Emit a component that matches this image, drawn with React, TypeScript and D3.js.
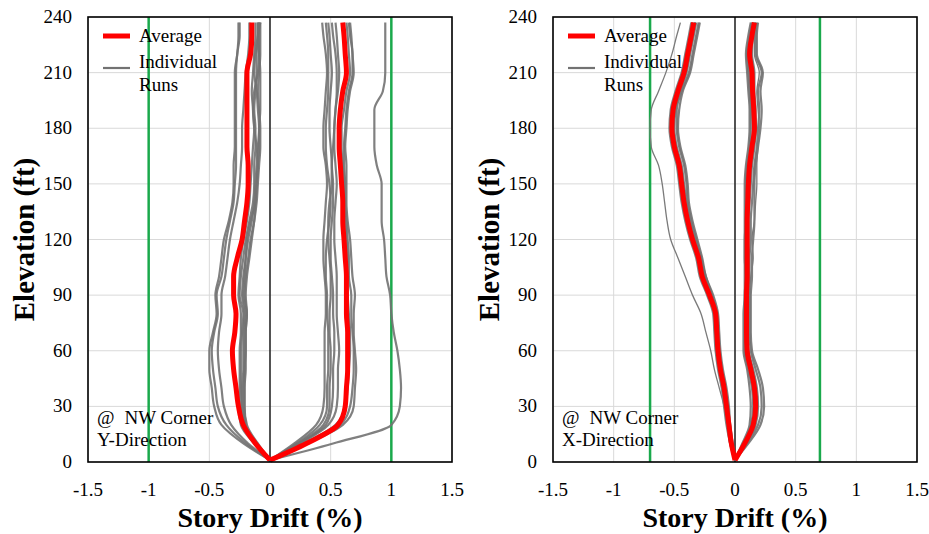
import React from "react";
import * as d3 from "d3";

const ELEV = [1, 10, 20, 30, 40, 50, 60, 70, 80, 90, 100, 110, 120, 130, 140, 150, 160, 170, 180, 190, 200, 210, 220, 230, 237];
const X_TICKS = [-1.5, -1, -0.5, 0, 0.5, 1, 1.5];
const X_TICK_LABELS = ["-1.5", "-1", "-0.5", "0", "0.5", "1", "1.5"];
const Y_TICKS = [0, 30, 60, 90, 120, 150, 180, 210, 240];

// Y-Direction panel
const Y_AVG_NEG = [0, -0.12, -0.22, -0.26, -0.28, -0.30, -0.31, -0.29, -0.28, -0.30, -0.30, -0.27, -0.23, -0.21, -0.19, -0.18, -0.18, -0.19, -0.19, -0.19, -0.19, -0.19, -0.16, -0.15, -0.15];
const Y_AVG_POS = [0, 0.30, 0.56, 0.62, 0.63, 0.64, 0.64, 0.64, 0.63, 0.63, 0.63, 0.62, 0.61, 0.60, 0.60, 0.59, 0.58, 0.57, 0.57, 0.58, 0.60, 0.63, 0.62, 0.61, 0.60];
const Y_RUNS_NEG = [
  [0, -0.22, -0.40, -0.46, -0.48, -0.50, -0.50, -0.47, -0.44, -0.45, -0.42, -0.40, -0.38, -0.34, -0.31, -0.30, -0.30, -0.29, -0.29, -0.29, -0.29, -0.29, -0.27, -0.26, -0.26],
  [0, -0.20, -0.36, -0.43, -0.45, -0.47, -0.48, -0.46, -0.43, -0.44, -0.40, -0.38, -0.36, -0.33, -0.30, -0.29, -0.28, -0.28, -0.28, -0.28, -0.28, -0.28, -0.27, -0.25, -0.25],
  [0, -0.18, -0.32, -0.38, -0.40, -0.42, -0.43, -0.42, -0.40, -0.40, -0.37, -0.35, -0.33, -0.30, -0.27, -0.25, -0.24, -0.23, -0.23, -0.22, -0.21, -0.20, -0.18, -0.17, -0.17],
  [0, -0.12, -0.22, -0.24, -0.24, -0.24, -0.24, -0.23, -0.22, -0.25, -0.24, -0.22, -0.20, -0.17, -0.14, -0.13, -0.13, -0.12, -0.12, -0.13, -0.12, -0.11, -0.11, -0.10, -0.10],
  [0, -0.12, -0.21, -0.23, -0.23, -0.22, -0.22, -0.22, -0.21, -0.23, -0.22, -0.20, -0.19, -0.16, -0.12, -0.11, -0.10, -0.11, -0.13, -0.14, -0.13, -0.10, -0.09, -0.09, -0.09],
  [0, -0.11, -0.20, -0.22, -0.22, -0.21, -0.21, -0.21, -0.20, -0.22, -0.21, -0.20, -0.18, -0.15, -0.13, -0.12, -0.11, -0.10, -0.09, -0.10, -0.11, -0.13, -0.12, -0.10, -0.08],
  [0, -0.11, -0.20, -0.21, -0.21, -0.21, -0.20, -0.20, -0.19, -0.21, -0.20, -0.18, -0.16, -0.13, -0.11, -0.10, -0.09, -0.08, -0.08, -0.09, -0.10, -0.09, -0.08, -0.08, -0.08],
  [0, -0.10, -0.19, -0.21, -0.21, -0.20, -0.20, -0.20, -0.19, -0.20, -0.19, -0.17, -0.15, -0.13, -0.12, -0.11, -0.10, -0.09, -0.09, -0.08, -0.08, -0.08, -0.09, -0.10, -0.10],
  [0, -0.13, -0.24, -0.26, -0.25, -0.25, -0.25, -0.24, -0.24, -0.26, -0.25, -0.24, -0.22, -0.19, -0.17, -0.16, -0.15, -0.14, -0.13, -0.14, -0.15, -0.14, -0.13, -0.12, -0.12],
];
const Y_RUNS_POS = [
  [0, 0.20, 0.38, 0.44, 0.45, 0.45, 0.45, 0.45, 0.46, 0.46, 0.45, 0.44, 0.44, 0.45, 0.46, 0.47, 0.46, 0.44, 0.44, 0.45, 0.46, 0.47, 0.46, 0.44, 0.43],
  [0, 0.22, 0.41, 0.47, 0.47, 0.48, 0.48, 0.48, 0.47, 0.47, 0.46, 0.46, 0.47, 0.49, 0.50, 0.49, 0.47, 0.46, 0.46, 0.47, 0.48, 0.48, 0.48, 0.47, 0.46],
  [0, 0.23, 0.44, 0.49, 0.49, 0.50, 0.50, 0.49, 0.49, 0.50, 0.50, 0.49, 0.48, 0.48, 0.49, 0.51, 0.51, 0.50, 0.49, 0.49, 0.50, 0.51, 0.50, 0.49, 0.48],
  [0, 0.24, 0.46, 0.51, 0.52, 0.52, 0.53, 0.53, 0.52, 0.52, 0.51, 0.50, 0.50, 0.51, 0.52, 0.52, 0.51, 0.52, 0.53, 0.54, 0.55, 0.55, 0.54, 0.52, 0.51],
  [0, 0.25, 0.48, 0.55, 0.56, 0.56, 0.57, 0.56, 0.55, 0.55, 0.55, 0.54, 0.53, 0.53, 0.54, 0.55, 0.54, 0.53, 0.53, 0.54, 0.56, 0.57, 0.56, 0.55, 0.54],
  [0, 0.28, 0.54, 0.62, 0.64, 0.65, 0.66, 0.66, 0.65, 0.64, 0.63, 0.64, 0.63, 0.62, 0.61, 0.61, 0.60, 0.59, 0.59, 0.61, 0.63, 0.66, 0.65, 0.64, 0.63],
  [0, 0.30, 0.58, 0.66, 0.68, 0.69, 0.69, 0.68, 0.67, 0.67, 0.65, 0.65, 0.64, 0.63, 0.62, 0.62, 0.61, 0.61, 0.62, 0.63, 0.65, 0.68, 0.68, 0.66, 0.65],
  [0, 0.31, 0.60, 0.69, 0.70, 0.71, 0.70, 0.69, 0.69, 0.70, 0.68, 0.67, 0.66, 0.64, 0.63, 0.63, 0.63, 0.62, 0.63, 0.64, 0.66, 0.69, 0.68, 0.67, 0.66],
  [0, 0.52, 1.00, 1.07, 1.08, 1.07, 1.05, 1.02, 1.00, 0.99, 0.96, 0.95, 0.94, 0.92, 0.92, 0.92, 0.88, 0.86, 0.86, 0.86, 0.93, 0.95, 0.95, 0.95, 0.95],
];

// X-Direction panel
const X_AVG_NEG = [0, -0.03, -0.05, -0.07, -0.09, -0.12, -0.14, -0.15, -0.16, -0.21, -0.27, -0.30, -0.35, -0.39, -0.42, -0.44, -0.46, -0.50, -0.52, -0.51, -0.47, -0.42, -0.39, -0.36, -0.34];
const X_AVG_POS = [0, 0.08, 0.15, 0.17, 0.16, 0.13, 0.10, 0.095, 0.095, 0.095, 0.10, 0.10, 0.10, 0.10, 0.105, 0.11, 0.12, 0.14, 0.16, 0.155, 0.145, 0.14, 0.12, 0.14, 0.16];
const X_RUNS_NEG = [
  [0, -0.04, -0.07, -0.09, -0.11, -0.14, -0.16, -0.17, -0.18, -0.23, -0.29, -0.32, -0.37, -0.41, -0.44, -0.46, -0.48, -0.52, -0.54, -0.53, -0.49, -0.44, -0.41, -0.38, -0.36],
  [0, -0.02, -0.04, -0.06, -0.08, -0.11, -0.13, -0.14, -0.15, -0.19, -0.25, -0.28, -0.33, -0.37, -0.40, -0.42, -0.44, -0.48, -0.50, -0.49, -0.45, -0.40, -0.37, -0.34, -0.32],
  [0, -0.03, -0.06, -0.08, -0.10, -0.13, -0.15, -0.16, -0.17, -0.20, -0.26, -0.29, -0.34, -0.38, -0.41, -0.43, -0.45, -0.49, -0.51, -0.50, -0.46, -0.41, -0.38, -0.35, -0.33],
  [0, -0.02, -0.04, -0.05, -0.07, -0.10, -0.12, -0.13, -0.14, -0.18, -0.24, -0.27, -0.31, -0.35, -0.38, -0.39, -0.41, -0.45, -0.47, -0.46, -0.43, -0.37, -0.34, -0.31, -0.29],
  [0, -0.04, -0.06, -0.08, -0.10, -0.13, -0.15, -0.16, -0.17, -0.22, -0.28, -0.31, -0.36, -0.40, -0.43, -0.45, -0.47, -0.51, -0.53, -0.52, -0.48, -0.43, -0.40, -0.37, -0.35],
  [0, -0.03, -0.05, -0.07, -0.09, -0.11, -0.13, -0.14, -0.15, -0.19, -0.24, -0.28, -0.32, -0.36, -0.39, -0.40, -0.42, -0.46, -0.48, -0.48, -0.44, -0.38, -0.35, -0.32, -0.30],
  [0, -0.03, -0.05, -0.07, -0.09, -0.12, -0.14, -0.15, -0.16, -0.20, -0.26, -0.30, -0.35, -0.39, -0.41, -0.43, -0.45, -0.49, -0.51, -0.50, -0.46, -0.41, -0.38, -0.35, -0.33],
];
const X_OUTLIER_NEG = [0, -0.03, -0.065, -0.09, -0.13, -0.17, -0.20, -0.24, -0.28, -0.35, -0.41, -0.47, -0.53, -0.56, -0.58, -0.60, -0.63, -0.69, -0.70, -0.69, -0.63, -0.57, -0.52, -0.48, -0.45];
const X_RUNS_POS = [
  [0, 0.10, 0.19, 0.22, 0.21, 0.17, 0.13, 0.12, 0.12, 0.12, 0.12, 0.12, 0.13, 0.13, 0.14, 0.15, 0.16, 0.18, 0.19, 0.20, 0.19, 0.22, 0.17, 0.17, 0.18],
  [0, 0.11, 0.21, 0.24, 0.23, 0.19, 0.14, 0.13, 0.13, 0.13, 0.14, 0.14, 0.15, 0.16, 0.16, 0.16, 0.17, 0.19, 0.21, 0.22, 0.21, 0.23, 0.18, 0.18, 0.19],
  [0, 0.07, 0.13, 0.15, 0.14, 0.11, 0.08, 0.08, 0.08, 0.08, 0.09, 0.08, 0.08, 0.09, 0.09, 0.09, 0.10, 0.12, 0.13, 0.13, 0.12, 0.11, 0.10, 0.12, 0.14],
  [0, 0.06, 0.12, 0.13, 0.12, 0.10, 0.07, 0.07, 0.07, 0.08, 0.08, 0.08, 0.08, 0.08, 0.08, 0.08, 0.09, 0.11, 0.12, 0.12, 0.11, 0.10, 0.09, 0.11, 0.13],
  [0, 0.09, 0.17, 0.19, 0.18, 0.15, 0.11, 0.10, 0.10, 0.10, 0.11, 0.11, 0.11, 0.11, 0.12, 0.13, 0.14, 0.16, 0.17, 0.17, 0.16, 0.16, 0.14, 0.15, 0.17],
  [0, 0.08, 0.14, 0.16, 0.15, 0.12, 0.09, 0.09, 0.09, 0.09, 0.10, 0.09, 0.09, 0.09, 0.10, 0.10, 0.11, 0.13, 0.15, 0.14, 0.13, 0.12, 0.11, 0.13, 0.15],
  [0, 0.09, 0.16, 0.18, 0.17, 0.14, 0.11, 0.10, 0.10, 0.10, 0.10, 0.10, 0.11, 0.11, 0.11, 0.12, 0.13, 0.15, 0.17, 0.16, 0.15, 0.15, 0.13, 0.14, 0.16],
];
const X_THIN_POS = [0, 0.08, 0.15, 0.17, 0.16, 0.12, 0.10, 0.10, 0.11, 0.12, 0.13, 0.15, 0.14, 0.16, 0.17, 0.18, 0.18, 0.19, 0.20, 0.19, 0.18, 0.20, 0.16, 0.16, 0.17];

const FONT = "Liberation Serif";

type PanelProps = {
  left: number;
  limit: number;
  avgNeg: number[];
  avgPos: number[];
  runs: number[][];
  thinRuns: number[][];
  direction: string;
};

function Panel({ left, limit, avgNeg, avgPos, runs, thinRuns, direction }: PanelProps) {
  const top = 17;
  const bottom = 462;
  const width = 364;
  const x = d3.scaleLinear().domain([-1.5, 1.5]).range([left, left + width]);
  const y = d3.scaleLinear().domain([0, 240]).range([bottom, top]);
  const line = d3
    .line<number>()
    .x((v) => x(v))
    .y((_, i) => y(ELEV[i]))
    .curve(d3.curveMonotoneY);

  return (
    <g>
      {X_TICKS.map((t) => (
        <line key={"gx" + t} x1={x(t)} x2={x(t)} y1={top} y2={bottom} stroke="#d9d9d9" strokeWidth={1} />
      ))}
      {Y_TICKS.map((t) => (
        <line key={"gy" + t} x1={left} x2={left + width} y1={y(t)} y2={y(t)} stroke="#d9d9d9" strokeWidth={1} />
      ))}
      <line x1={x(-limit)} x2={x(-limit)} y1={top} y2={bottom} stroke="#1aa94c" strokeWidth={2.5} />
      <line x1={x(limit)} x2={x(limit)} y1={top} y2={bottom} stroke="#1aa94c" strokeWidth={2.5} />
      <line x1={x(0)} x2={x(0)} y1={top} y2={bottom} stroke="#000" strokeWidth={1.3} />
      {runs.map((r, i) => (
        <path key={"r" + i} d={line(r) || ""} fill="none" stroke="#727272" strokeWidth={2.2} strokeOpacity={0.9} />
      ))}
      {thinRuns.map((r, i) => (
        <path key={"t" + i} d={line(r) || ""} fill="none" stroke="#7a7a7a" strokeWidth={1.3} />
      ))}
      <path d={line(avgNeg) || ""} fill="none" stroke="#ff0000" strokeWidth={5} />
      <path d={line(avgPos) || ""} fill="none" stroke="#ff0000" strokeWidth={5} />
      <rect x={left} y={top} width={width} height={bottom - top} fill="none" stroke="#000" strokeWidth={1.6} />
      {Y_TICKS.map((t) => (
        <text key={"ty" + t} x={left - 16} y={y(t) + 6} textAnchor="end" fontFamily={FONT} fontSize={19}>
          {t}
        </text>
      ))}
      {X_TICKS.map((t, i) => (
        <text key={"tx" + t} x={x(t)} y={496} textAnchor="middle" fontFamily={FONT} fontSize={19}>
          {X_TICK_LABELS[i]}
        </text>
      ))}
      <text x={x(0)} y={527} textAnchor="middle" fontFamily={FONT} fontSize={28} fontWeight="bold">
        Story Drift (%)
      </text>
      <text
        transform={`translate(${left - 54},${(top + bottom) / 2}) rotate(-90)`}
        textAnchor="middle"
        fontFamily={FONT}
        fontSize={29}
        fontWeight="bold"
      >
        Elevation (ft)
      </text>
      <line x1={left + 15} x2={left + 42} y1={36} y2={36} stroke="#ff0000" strokeWidth={5} />
      <text x={left + 51} y={42} fontFamily={FONT} fontSize={19}>Average</text>
      <line x1={left + 15} x2={left + 42} y1={68} y2={68} stroke="#727272" strokeWidth={2.2} />
      <text x={left + 51} y={68} fontFamily={FONT} fontSize={19}>Individual</text>
      <text x={left + 51} y={91} fontFamily={FONT} fontSize={19}>Runs</text>
      <text x={left + 9} y={424} fontFamily={FONT} fontSize={19}>
        @<tspan dx={10}>NW Corner</tspan>
      </text>
      <text x={left + 9} y={446} fontFamily={FONT} fontSize={19}>
        {direction}
      </text>
    </g>
  );
}

export default function App() {
  return (
    <svg width={929} height={534} style={{ position: "absolute", left: 0, top: 0 }}>
      <rect x={0} y={0} width={929} height={534} fill="#fff" />
      <Panel
        left={88}
        limit={1}
        avgNeg={Y_AVG_NEG}
        avgPos={Y_AVG_POS}
        runs={[...Y_RUNS_NEG, ...Y_RUNS_POS]}
        thinRuns={[]}
        direction="Y-Direction"
      />
      <Panel
        left={553}
        limit={0.7}
        avgNeg={X_AVG_NEG}
        avgPos={X_AVG_POS}
        runs={[...X_RUNS_NEG, ...X_RUNS_POS]}
        thinRuns={[X_OUTLIER_NEG, X_THIN_POS]}
        direction="X-Direction"
      />
    </svg>
  );
}
